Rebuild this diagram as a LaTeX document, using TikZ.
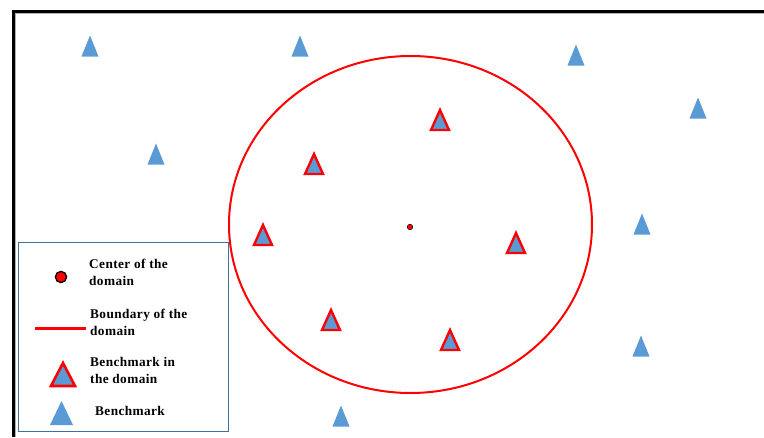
\documentclass[tikz,border=0pt]{standalone}
\usepackage{fontspec}
\setmainfont{Liberation Serif}
\definecolor{bmblue}{RGB}{91,155,213}
\definecolor{lgborder}{RGB}{65,113,156}
\definecolor{pured}{RGB}{255,0,0}
\tikzset{
  bm/.pic={\fill[bmblue] (-8.5,10.5)--(8.5,10.5)--(0,-10.5)--cycle;},
  bmin/.pic={\filldraw[fill=bmblue,draw=pured,line width=2.4pt,line join=miter] (-9,10)--(9,10)--(0,-10)--cycle;},
  lgtext/.style={anchor=west,align=left,font=\bfseries\fontsize{13.3}{17}\selectfont\addfontfeatures{LetterSpace=3},inner sep=0pt}
}
\begin{document}
\begin{tikzpicture}[x=1pt,y=-1pt]
\useasboundingbox (0,0) rectangle (764,437);
\fill[white] (0,0) rectangle (764,437);
% frame
\draw[gray!60,line width=0.6pt] (15.5,13.2) -- (764,13.2);
\draw[gray!60,line width=0.6pt] (15.5,13.2) -- (15.5,437);
\draw[black,line width=2.6pt] (13.5,437) -- (13.5,11.3) -- (764,11.3);
% domain boundary
\draw[pured,line width=2pt] (410.5,224.5) ellipse [x radius=181.5,y radius=168.5];
% center
\filldraw[fill=pured,draw=black,line width=0.5pt] (410,227) circle (2.8);
% benchmarks
\foreach \p in {(90,46),(300,46),(576,55),(698,108),(156,154),(642,224),(641,346),(341,416)}
  \pic at \p {bm};
\foreach \p in {(440,120),(314,164),(263,235),(516,243),(331,320),(450,340)}
  \pic at \p {bmin};
% legend
\draw[lgborder,line width=1.5pt] (18.5,242.5) rectangle (228.5,431.5);
\filldraw[fill=pured,draw=black,line width=1.3pt] (61,277) circle (5.6);
\node[lgtext] (t1) at (89,272.5) {Center of the\\domain};
\draw[pured,line width=3pt] (35,328) -- (86,328);
\node[lgtext] (t2) at (90,322.5) {Boundary of the\\domain};
\filldraw[fill=bmblue,draw=pured,line width=2.6pt,line join=miter] (51,386)--(75,386)--(63,363)--cycle;
\node[lgtext] (t3) at (90,370.5) {Benchmark in\\the domain};
\fill[bmblue] (50,425)--(73,425)--(61.5,401)--cycle;
\node[lgtext] (t4) at (95,411) {Benchmark};
\end{tikzpicture}
\end{document}
